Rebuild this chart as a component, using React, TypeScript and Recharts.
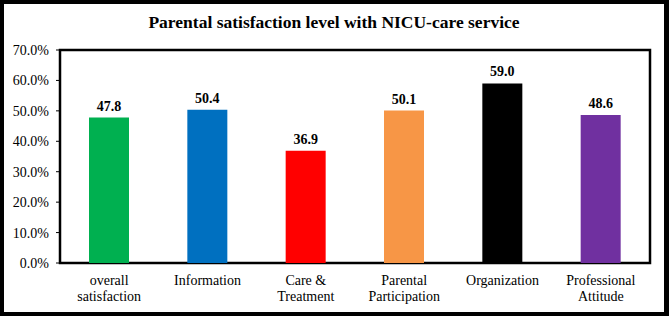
import React from 'react';
import { BarChart, Bar, XAxis, YAxis, Cell, LabelList, ReferenceArea } from 'recharts';

const categories = ['overall satisfaction', 'Information', 'Care & Treatment', 'Parental Participation', 'Organization', 'Professional Attitude'];
const tickLines = [['overall', 'satisfaction'], ['Information'], ['Care &', 'Treatment'], ['Parental', 'Participation'], ['Organization'], ['Professional', 'Attitude']];
const values = [47.8, 50.4, 36.9, 50.1, 59.0, 48.6];
const colors = ['#00b050', '#0070c0', '#ff0000', '#f79646', '#000000', '#7030a0'];
const yTicks = [0, 10, 20, 30, 40, 50, 60, 70];

const data = categories.map((c, i) => ({ name: c, value: values[i], idx: i }));

const FONT = '"Liberation Serif", "Times New Roman", serif';

const XTick = (props: any) => {
  const { x, y, payload } = props;
  const lines = tickLines[payload.index] || [payload.value];
  return (
    <text x={x} y={y} textAnchor="middle" fontFamily={FONT} fontSize={14} fill="#000">
      {lines.map((l: string, i: number) => (
        <tspan key={i} x={x} dy={i === 0 ? 14 : 16}>{l}</tspan>
      ))}
    </text>
  );
};

export default function App() {
  return (
    <div style={{ position: 'fixed', left: 0, top: 0, width: 669, height: 316, boxSizing: 'border-box', border: '4px solid #000', borderRightWidth: 5, background: '#fff' }}>
      <div style={{ position: 'absolute', left: 0, top: 8, width: 660, textAlign: 'center', fontFamily: FONT, fontWeight: 'bold', fontSize: 17.5, color: '#000' }}>
        Parental satisfaction level with NICU-care service
      </div>
      <BarChart width={660} height={308} data={data} margin={{ top: 46, right: 14, bottom: 0, left: 0 }}>
        <XAxis dataKey="name" interval={0} tickLine={false} axisLine={false} tick={<XTick />} height={49} />
        <YAxis type="number" domain={[0, 70]} ticks={yTicks} width={56} tickSize={4} tickMargin={7}
          tickFormatter={(v: number) => v.toFixed(1) + '%'} axisLine={false}
          tick={{ fontFamily: FONT, fontSize: 14, fill: '#000' }} tickLine={{ stroke: '#000', strokeWidth: 1 }} />
        <ReferenceArea y1={0} y2={70} fill="none" stroke="#000" strokeWidth={2.5} ifOverflow="visible" />
        <Bar dataKey="value" barSize={40} isAnimationActive={false}>
          {data.map((d, i) => <Cell key={i} fill={colors[i]} />)}
          <LabelList dataKey="value" position="top" offset={7} formatter={(v: any) => Number(v).toFixed(1)}
            style={{ fontFamily: FONT, fontSize: 14, fontWeight: 'bold', fill: '#000' }} />
        </Bar>
      </BarChart>
    </div>
  );
}
